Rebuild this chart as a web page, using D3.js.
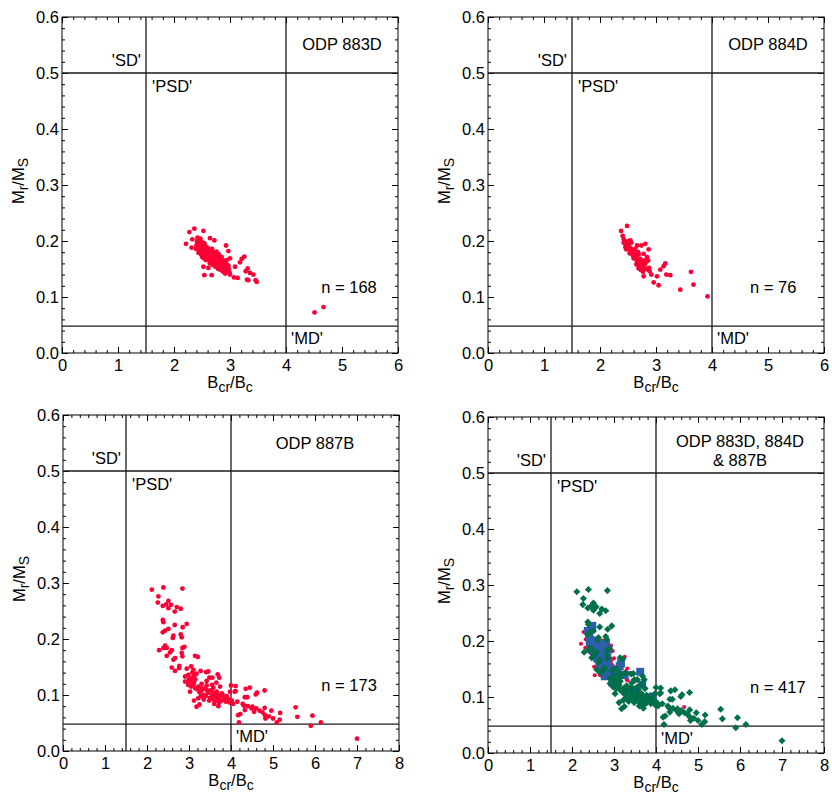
<!DOCTYPE html>
<html>
<head>
<meta charset="utf-8">
<script src="https://cdn.jsdelivr.net/npm/d3@7"></script>
<style>
body { margin: 0; background: #fff; }
text { font-family: "Liberation Sans", Arial, Helvetica, sans-serif; }
</style>
</head>
<body>
<script>
// Bcr/Bc vs Mr/Ms
var site883D = [
	[2.364,0.222],[2.275,0.216],[2.525,0.218],[2.214,0.195],[2.327,0.203],[2.315,0.188],[2.643,0.205],
	[2.721,0.201],[2.929,0.192],[2.971,0.182],[2.436,0.179],[3.0,0.169],[3.209,0.168],[3.256,0.172],
	[3.179,0.162],[2.525,0.154],[2.614,0.152],[3.09,0.154],[3.316,0.151],[3.28,0.146],[3.356,0.143],
	[2.542,0.139],[2.673,0.139],[3.0,0.140],[2.916,0.142],[3.072,0.135],[3.303,0.131],[3.417,0.140],
	[3.327,0.130],[3.458,0.130],[3.476,0.127],[3.137,0.134],[4.51,0.0725],[4.67,0.082],
	[2.40,0.192],[2.41,0.199],[2.39,0.186],[2.42,0.206],
	[2.43,0.189],[2.44,0.195],[2.42,0.201],[2.45,0.182],
	[2.46,0.191],[2.47,0.185],[2.45,0.198],[2.48,0.177],[2.47,0.204],
	[2.49,0.181],[2.50,0.188],[2.51,0.193],[2.49,0.199],[2.50,0.172],
	[2.52,0.183],[2.53,0.176],[2.52,0.190],[2.54,0.196],[2.53,0.169],[2.55,0.186],
	[2.56,0.179],[2.55,0.192],[2.57,0.172],[2.56,0.184],[2.58,0.181],[2.57,0.166],
	[2.59,0.175],[2.60,0.183],[2.58,0.189],[2.60,0.169],[2.61,0.178],[2.59,0.186],
	[2.62,0.172],[2.63,0.179],[2.61,0.187],[2.63,0.165],[2.64,0.176],[2.62,0.183],[2.64,0.160],
	[2.65,0.170],[2.66,0.177],[2.65,0.184],[2.67,0.163],[2.66,0.174],[2.68,0.158],
	[2.68,0.167],[2.69,0.173],[2.70,0.180],[2.69,0.161],[2.71,0.170],[2.68,0.186],
	[2.71,0.165],[2.72,0.171],[2.73,0.177],[2.71,0.157],[2.73,0.168],[2.74,0.154],
	[2.74,0.162],[2.75,0.169],[2.76,0.175],[2.75,0.156],[2.77,0.165],[2.76,0.181],
	[2.77,0.160],[2.78,0.166],[2.79,0.172],[2.78,0.153],[2.80,0.163],[2.79,0.150],
	[2.80,0.157],[2.81,0.164],[2.82,0.170],[2.81,0.151],[2.83,0.160],[2.80,0.176],
	[2.83,0.155],[2.84,0.161],[2.85,0.167],[2.84,0.148],[2.86,0.158],
	[2.86,0.153],[2.87,0.160],[2.88,0.165],[2.87,0.146],[2.85,0.171],
	[2.89,0.150],[2.90,0.157],[2.91,0.162],[2.89,0.144],
	[2.92,0.148],[2.93,0.154],[2.92,0.160],[2.94,0.166],
	[2.95,0.146],[2.96,0.152],[2.94,0.158],
	[2.98,0.150],[2.97,0.156],[2.99,0.144]
];

var site884D = [
	[2.376,0.218],[2.483,0.227],[2.405,0.209],[2.424,0.203],[2.424,0.197],[2.483,0.199],[2.543,0.201],
	[2.454,0.189],[2.513,0.186],[2.662,0.192],[2.74,0.192],[2.81,0.195],[2.869,0.185],[2.543,0.180],
	[2.6,0.177],[2.632,0.171],[2.69,0.176],[2.78,0.177],[2.84,0.171],[2.81,0.165],[2.662,0.163],
	[2.72,0.157],[2.78,0.160],[2.69,0.151],[2.78,0.151],[2.876,0.152],[2.885,0.146],[3.166,0.160],
	[3.136,0.155],[3.077,0.149],[2.917,0.140],[3.018,0.137],[2.78,0.137],[3.184,0.140],[3.255,0.139],
	[3.624,0.145],[2.959,0.126],[3.047,0.121],[3.434,0.113],[3.67,0.122],[3.92,0.101],
	[2.45,0.195],[2.48,0.192],[2.50,0.196],[2.52,0.19],[2.47,0.185],[2.55,0.187],[2.57,0.183],
	[2.53,0.178],[2.58,0.175],[2.6,0.18],[2.62,0.176],[2.64,0.168],[2.6,0.169],[2.66,0.174],
	[2.68,0.165],[2.7,0.16],[2.65,0.158],[2.72,0.168],[2.74,0.163],[2.7,0.153],[2.76,0.155],
	[2.73,0.148],[2.78,0.165],[2.8,0.158],[2.82,0.162],[2.77,0.145],[2.63,0.186],[2.56,0.197],
	[2.52,0.2],[2.68,0.18],[2.84,0.15],[2.86,0.165]
];

var site887B = [
	[2.115,0.288],[2.391,0.292],[2.843,0.290],[2.272,0.276],[2.258,0.265],[2.51,0.268],[2.376,0.259],
	[2.455,0.262],[2.573,0.261],[2.51,0.255],[2.709,0.257],[2.804,0.254],[2.66,0.249],[2.376,0.234],
	[2.391,0.230],[2.946,0.227],[2.66,0.225],[2.85,0.221],[2.51,0.218],[2.431,0.215],[2.376,0.212],
	[2.629,0.206],[2.804,0.208],[2.827,0.203],[2.613,0.202],[2.431,0.188],[2.391,0.184],[2.289,0.180],
	[2.47,0.184],[2.589,0.180],[2.55,0.176],[2.843,0.184],[2.89,0.186],[2.827,0.175],[2.47,0.170],
	[2.629,0.163],[2.668,0.166],[3.144,0.170],[3.208,0.168],[2.843,0.169],[2.589,0.149],[2.668,0.143],
	[2.77,0.152],[2.763,0.148],[2.946,0.147],[3.05,0.151],[3.105,0.145],[3.278,0.143],[3.405,0.141],
	[3.46,0.142],[2.906,0.133],[2.985,0.136],[3.05,0.130],[3.144,0.136],[2.906,0.124],[3.009,0.123],
	[3.105,0.119],[3.223,0.115],[3.421,0.117],[3.556,0.131],[3.683,0.137],[3.72,0.131],[3.485,0.131],
	[3.74,0.115],[3.58,0.113],[3.025,0.106],[3.302,0.112],[3.421,0.109],[3.66,0.106],[3.78,0.103],
	[3.977,0.106],[4.0,0.117],[4.09,0.106],[4.35,0.111],
	[3.0,0.128],[3.05,0.125],[3.1,0.132],[3.12,0.122],[3.15,0.128],[3.2,0.11],[3.25,0.105],[3.3,0.108],
	[3.35,0.1],[3.38,0.112],[3.4,0.098],[3.45,0.104],[3.5,0.095],[3.52,0.108],[3.55,0.1],[3.58,0.092],
	[3.6,0.104],[3.62,0.097],[3.65,0.09],[3.68,0.1],[3.7,0.094],[3.72,0.086],[3.75,0.098],[3.78,0.09],
	[3.8,0.1],[3.85,0.094],[3.88,0.088],[3.9,0.098],[3.95,0.092],[3.98,0.086],[4.02,0.09],[4.05,0.084],
	[3.22,0.094],[3.25,0.083],[3.35,0.092],[3.48,0.09],[3.6,0.084],[3.7,0.08],[3.3,0.12],[3.42,0.125],
	[3.55,0.118],[3.65,0.122],[3.05,0.115],[3.15,0.112],[3.28,0.098],[2.98,0.118],[3.08,0.14],[3.18,0.138],
	[4.11,0.116],[4.11,0.107],[4.15,0.088],[4.17,0.064],[4.19,0.051],[4.31,0.081],[4.33,0.096],[4.39,0.096],
	[4.45,0.113],[4.33,0.073],[4.49,0.076],[4.59,0.101],[4.62,0.104],[4.51,0.079],[4.6,0.076],[4.8,0.108],
	[4.8,0.077],[4.75,0.069],[4.81,0.064],[4.82,0.058],[4.96,0.072],[5.0,0.058],[5.09,0.051],[5.17,0.068],
	[5.16,0.056],[5.54,0.078],[5.58,0.061],[5.94,0.063],[5.9,0.045],[6.14,0.051],[7.0,0.022],
	[4.22,0.066],[4.28,0.084],[4.4,0.08],[4.55,0.07],[4.68,0.072],[4.9,0.062],[3.18,0.079],[3.12,0.09]
];

var nCounts = [168, 76, 173, 417];
var panelTitles = [["ODP 883D"], ["ODP 884D"], ["ODP 887B"], ["ODP 883D, 884D", "& 887B"]];
var xTicksShort = [0, 1, 2, 3, 4, 5, 6];
var xTicksLong = [0, 1, 2, 3, 4, 5, 6, 7, 8];
var yTicks = [0, 0.1, 0.2, 0.3, 0.4, 0.5, 0.6];
var bcrBounds = [1.5, 4];
var mrBounds = [0.5, 0.048];
var domainNames = ["'SD'", "'PSD'", "'MD'"];

var W = 336, H = 336;
var FONT = 16.5, SUB = 14;

var svg = d3.select("body")
	.append("svg")
		.attr("width", 832)
		.attr("height", 799);

var circleStyle = { shape: "circle", r: 2.4, color: "#fb0034" };

var panels = [
	{ left: 62, top: 17, xTicks: xTicksShort, series: [[site883D, circleStyle]], titleX: 5, titleY: [0.541], nX: 4.63, n: nCounts[0], title: panelTitles[0] },
	{ left: 488, top: 17, xTicks: xTicksShort, series: [[site884D, circleStyle]], titleX: 5, titleY: [0.541], nX: 4.68, n: nCounts[1], title: panelTitles[1] },
	{ left: 63, top: 415, xTicks: xTicksLong, series: [[site887B, circleStyle]], titleX: 6, titleY: [0.539], nX: 6.15, n: nCounts[2], title: panelTitles[2] },
	{ left: 488, top: 417, xTicks: xTicksLong,
		series: [
			[site883D, { shape: "circle", r: 2.0, color: "#fb0034" }],
			[site884D, { shape: "square", size: 64, color: "#2d5fab" }],
			[site887B, { shape: "diamond", size: 25, color: "#00704a" }]
		],
		titleX: 6, titleY: [0.546, 0.512], nX: 6.24, n: nCounts[3], title: panelTitles[3] }
];

function styleAxis(sel) {
	sel.attr("font-size", FONT).attr("font-family", "'Liberation Sans', Arial, sans-serif");
	sel.select(".domain").remove();
	sel.selectAll("line").attr("stroke", "#000");
	sel.selectAll("text").attr("fill", "#000");
}

panels.forEach(function (p) {
	var g = svg.append("g").attr("transform", "translate(" + p.left + "," + p.top + ")");
	var xMax = p.xTicks[p.xTicks.length - 1];
	var x = d3.scaleLinear().domain([0, xMax]).range([0, W]);
	var y = d3.scaleLinear().domain([0, 0.6]).range([H, 0]);

	var xMinor = d3.range(0, xMax * 5 + 1).map(function (i) { return i / 5; });
	var yMinor = d3.range(0, 31).map(function (i) { return i / 50; });

	// minor ticks on all four sides, pointing in
	g.append("g").attr("transform", "translate(0," + H + ")")
		.call(d3.axisBottom(x).tickValues(xMinor).tickSize(-3).tickFormat("")).call(styleAxis);
	g.append("g")
		.call(d3.axisTop(x).tickValues(xMinor).tickSize(-3).tickFormat("")).call(styleAxis);
	g.append("g")
		.call(d3.axisLeft(y).tickValues(yMinor).tickSize(-3).tickFormat("")).call(styleAxis);
	g.append("g").attr("transform", "translate(" + W + ",0)")
		.call(d3.axisRight(y).tickValues(yMinor).tickSize(-3).tickFormat("")).call(styleAxis);

	// major ticks
	g.append("g").attr("transform", "translate(0," + H + ")")
		.call(d3.axisBottom(x).tickValues(p.xTicks).tickSize(-6).tickPadding(6).tickFormat(d3.format("d"))).call(styleAxis);
	g.append("g")
		.call(d3.axisTop(x).tickValues(p.xTicks).tickSize(-6).tickFormat("")).call(styleAxis);
	g.append("g")
		.call(d3.axisLeft(y).tickValues(yTicks).tickSize(-6).tickPadding(3).tickFormat(d3.format(".1f"))).call(styleAxis);
	g.append("g").attr("transform", "translate(" + W + ",0)")
		.call(d3.axisRight(y).tickValues(yTicks).tickSize(-6).tickFormat("")).call(styleAxis);

	// frame
	g.append("rect")
		.attr("width", W).attr("height", H)
		.attr("fill", "none").attr("stroke", "#000").attr("stroke-width", 1);

	// domain boundaries
	g.selectAll(".vline").data(bcrBounds).enter().append("line")
		.attr("x1", function (d) { return x(d); }).attr("x2", function (d) { return x(d); })
		.attr("y1", 0).attr("y2", H)
		.attr("stroke", "#1a1a1a").attr("stroke-width", 1.3);
	g.selectAll(".hline").data(mrBounds).enter().append("line")
		.attr("x1", 0).attr("x2", W)
		.attr("y1", function (d) { return y(d); }).attr("y2", function (d) { return y(d); })
		.attr("stroke", "#1a1a1a").attr("stroke-width", 1.3);

	// points
	p.series.forEach(function (s) {
		var data = s[0], st = s[1];
		if (st.shape === "circle") {
			g.append("g").selectAll("circle").data(data).enter().append("circle")
				.attr("cx", function (d) { return x(d[0]); })
				.attr("cy", function (d) { return y(d[1]); })
				.attr("r", st.r)
				.style("fill", st.color);
		} else {
			var sym = d3.symbol().type(d3.symbolSquare).size(st.size);
			var rot = st.shape === "diamond" ? 45 : 0;
			g.append("g").selectAll("path").data(data).enter().append("path")
				.attr("d", sym)
				.attr("transform", function (d) { return "translate(" + x(d[0]) + "," + y(d[1]) + ") rotate(" + rot + ")"; })
				.style("fill", st.color);
		}
	});

	// labels
	var txt = function (tx, ty, anchor, s) {
		return g.append("text").attr("x", tx).attr("y", ty).attr("text-anchor", anchor)
			.attr("font-size", FONT).attr("fill", "#000").text(s);
	};
	txt(x(bcrBounds[0]) - 5, y(mrBounds[0]) - 7, "end", domainNames[0]);
	txt(x(bcrBounds[0]) + 6, y(mrBounds[0]) + 19, "start", domainNames[1]);
	txt(x(bcrBounds[1]) + 5, y(mrBounds[1]) + 18, "start", domainNames[2]);
	p.title.forEach(function (t, i) { txt(x(p.titleX), y(p.titleY[i]), "middle", t); });
	txt(x(p.nX), y(0.107), "start", "n = " + p.n);

	// axis titles
	var xl = g.append("text").attr("x", W / 2).attr("y", H + 35).attr("text-anchor", "middle").attr("font-size", FONT);
	xl.append("tspan").text("B");
	xl.append("tspan").attr("dy", 4).attr("font-size", SUB).text("cr");
	xl.append("tspan").attr("dy", -4).text("/B");
	xl.append("tspan").attr("dy", 4).attr("font-size", SUB).text("c");

	var yl = g.append("text").attr("transform", "translate(-38," + (H / 2 - 4) + ") rotate(-90)")
		.attr("text-anchor", "middle").attr("font-size", FONT);
	yl.append("tspan").text("M");
	yl.append("tspan").attr("dy", 4).attr("font-size", SUB).text("r");
	yl.append("tspan").attr("dy", -4).text("/M");
	yl.append("tspan").attr("dy", 4).attr("font-size", SUB).text("S");
});
</script>
</body>
</html>
